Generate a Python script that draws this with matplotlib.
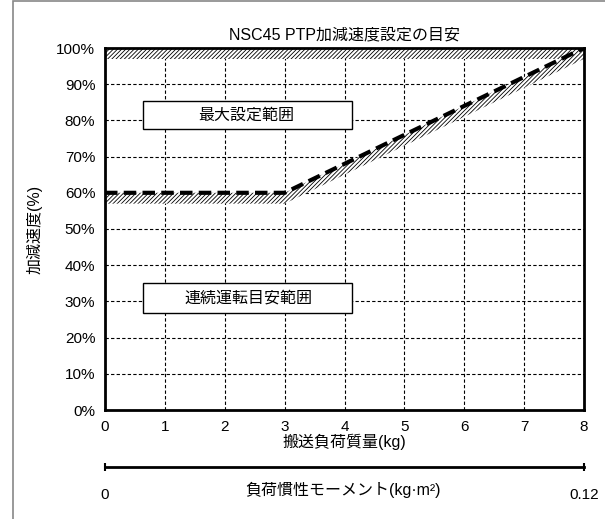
import matplotlib
matplotlib.use("Agg")
import matplotlib.pyplot as plt
import numpy as np
from matplotlib.patches import Rectangle

plt.rcParams['font.family'] = ['Liberation Sans', 'Noto Sans CJK JP', 'DejaVu Sans']
plt.rcParams['hatch.linewidth'] = 0.6

# data
mass_kg = [0, 3, 8]
accel_pct = [60, 60, 100]
inertia_range = [0, 0.12]
x_ticks = [0, 1, 2, 3, 4, 5, 6, 7, 8]
y_ticks = [0, 10, 20, 30, 40, 50, 60, 70, 80, 90, 100]
band = 3  # hatched band thickness (%)

fig = plt.figure(figsize=(6.05, 5.19), dpi=100)

# outer frame
fig.patches.append(Rectangle((13 / 605, -0.1), 1.1, 1.098, transform=fig.transFigure,
                             fill=False, edgecolor='#888888', linewidth=1.2))

ax = fig.add_axes([105 / 605, 109 / 519, 479 / 605, 362 / 519])
ax.set_xlim(0, 8)
ax.set_ylim(0, 100)
ax.set_xticks(x_ticks)
ax.set_yticks(y_ticks)
ax.set_yticklabels([f"{v}%" for v in y_ticks])
ax.tick_params(length=0, labelsize=11, pad=7)
ax.grid(True, color='black', linestyle=(0, (3, 2)), linewidth=0.8)
for s in ax.spines.values():
    s.set_linewidth(2)

# hatched bands
xs = np.array(mass_kg, dtype=float)
ys = np.array(accel_pct, dtype=float)
ax.fill_between(xs, ys - band, ys, facecolor='white', edgecolor='black',
                hatch='////////', linewidth=0, zorder=2)
ax.fill_between([0, 8], [100 - band, 100 - band], [100, 100], facecolor='white',
                edgecolor='black', hatch='////////', linewidth=0, zorder=2)
ax.plot(mass_kg, accel_pct, color='black', linewidth=3, linestyle=(0, (3, 1.5)), zorder=3)

# label boxes
ax.add_patch(Rectangle((0.635, 77.6), 3.49, 7.8, facecolor='white', edgecolor='black',
                       linewidth=1, zorder=4))
ax.text(2.36, 81.5, "最大設定範囲", ha='center', va='center', fontsize=11.5, zorder=5)
ax.add_patch(Rectangle((0.635, 26.8), 3.49, 8.3, facecolor='white', edgecolor='black',
                       linewidth=1, zorder=4))
ax.text(2.39, 30.9, "連続運転目安範囲", ha='center', va='center', fontsize=11.5, zorder=5)

ax.set_title("NSC45 PTP加減速度設定の目安", fontsize=11.5, pad=6)
ax.set_xlabel("搬送負荷質量(kg)", fontsize=11.5, labelpad=0)
ax.set_ylabel("加減速度(%)", fontsize=11.5, labelpad=10)

# secondary scale for load inertia
ax2 = fig.add_axes([105 / 605, 52 / 519, 479 / 605, 0.001])
ax2.set_xlim(inertia_range)
ax2.set_ylim(0, 1)
ax2.set_yticks([])
ax2.set_xticks(inertia_range)
ax2.set_xticklabels(["0", "0.12"])
ax2.tick_params(axis='x', direction='inout', length=6, width=1.5, labelsize=11, pad=12)
for k in ['top', 'left', 'right']:
    ax2.spines[k].set_visible(False)
ax2.spines['bottom'].set_linewidth(2)
ax2.patch.set_visible(False)
fig.text(343 / 605, (519 - 490) / 519, "負荷慣性モーメント(kg·m²)", ha='center', va='center',
         fontsize=11.5)

fig.savefig("out.png", dpi=100)
